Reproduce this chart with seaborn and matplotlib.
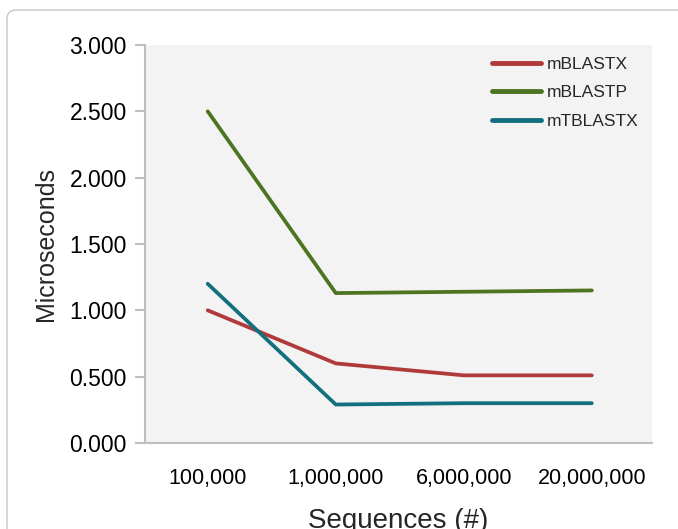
import pandas as pd
import matplotlib
matplotlib.use("Agg")
import matplotlib.pyplot as plt
from matplotlib.patches import FancyBboxPatch
import seaborn as sns

# ------------------------------------------------------------
# Datos
# ------------------------------------------------------------
sequences = ["100,000", "1,000,000", "6,000,000", "20,000,000"]
mblastx = [1.00, 0.60, 0.51, 0.51]
mblastp = [2.50, 1.13, 1.14, 1.15]
mtblastx = [1.20, 0.29, 0.30, 0.30]
series_names = ["mBLASTX", "mBLASTP", "mTBLASTX"]
colors = ["#b03a3a", "#4d7420", "#12707e"]

sns.set_theme(style="white")
plt.rcParams["font.family"] = ["Liberation Sans", "DejaVu Sans"]

df = pd.DataFrame({
    "Sequences": sequences * 3,
    "Microseconds": mblastx + mblastp + mtblastx,
    "Serie": [s for s in series_names for _ in sequences],
})

fig = plt.figure(figsize=(6.78, 5.29), dpi=100)
ax = fig.add_axes([145 / 678, 1 - 443 / 529, 507 / 678, 398 / 529])
ax.set_facecolor("#f3f3f3")

sns.lineplot(data=df, x="Sequences", y="Microseconds", hue="Serie",
             palette=colors, linewidth=2.7, ax=ax, sort=False)
for line in ax.get_lines():
    line.set_solid_capstyle("round")
    line.set_solid_joinstyle("round")

ax.set_xlim(-0.49, 3.47)
ax.set_ylim(0, 3.0)
ax.set_yticks([0, 0.5, 1.0, 1.5, 2.0, 2.5, 3.0])
ax.set_yticklabels(["{:.3f}".format(v) for v in ax.get_yticks()], fontsize=16.5)
ax.tick_params(axis="y", length=7, width=1.5, color="#bfbfbf", pad=6,
               left=True, labelcolor="black")
ax.tick_params(axis="x", length=0, pad=18, labelsize=15.5, labelcolor="black")

for side in ["top", "right"]:
    ax.spines[side].set_visible(False)
for side in ["left", "bottom"]:
    ax.spines[side].set_color("#bfbfbf")
    ax.spines[side].set_linewidth(1.5)
ax.spines["bottom"].set_bounds(-0.56, 3.47)

ax.set_ylabel("Microseconds", fontsize=18, labelpad=8)
ax.set_xlabel("Sequences (#)", fontsize=20, labelpad=14)

leg = ax.legend(loc="upper right", frameon=False, fontsize=12.5,
                handlelength=2.85, handletextpad=0.35, labelspacing=0.78,
                bbox_to_anchor=(1.005, 1.01))
for h in leg.legend_handles:
    h.set_linewidth(3.5)
    h.set_solid_capstyle("round")

# marco redondeado alrededor de la figura
frame = FancyBboxPatch((7, -30), 720, 549, boxstyle="round,pad=0,rounding_size=9",
                       transform=None, facecolor="none", edgecolor="#c0c0c0",
                       linewidth=0.9)
fig.patches.append(frame)

fig.savefig("out.png", dpi=100)
